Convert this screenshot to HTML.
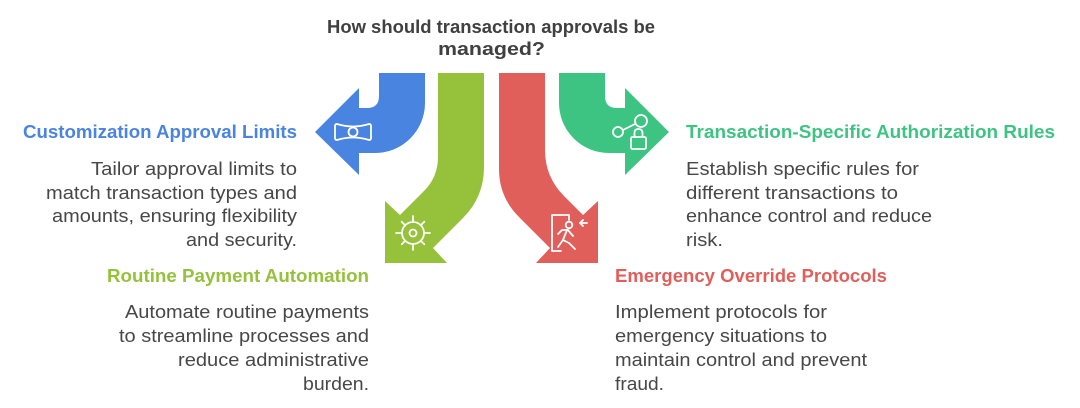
<!DOCTYPE html>
<html>
<head>
<meta charset="utf-8">
<style>
  html, body { margin: 0; padding: 0; background: #ffffff; }
  body { width: 1080px; height: 408px; overflow: hidden; }
  svg { display: block; }
  .t { font-family: "Liberation Sans", Arial, sans-serif; }
  .title { font-weight: bold; font-size: 18px; fill: #404040; }
  .h { font-weight: bold; font-size: 18px; }
  .b { font-size: 18px; fill: #474747; }
</style>
</head>
<body>
<svg width="1080" height="408" viewBox="0 0 1080 408" xmlns="http://www.w3.org/2000/svg">
  <!-- Title -->
  <text class="t title" x="327" y="33" textLength="328" lengthAdjust="spacingAndGlyphs">How should transaction approvals be</text>
  <text class="t title" x="438" y="55" textLength="107" lengthAdjust="spacingAndGlyphs">managed?</text>

  <!-- Blue arrow (left) -->
  <path d="M379 73 L425 73 L425 103 A50 50 0 0 1 375 153 L359 153 L359 175 L315 132 L359 88 L359 108 L367 108 Q379 108 379 96 Z" fill="#4A84E1"/>
  <!-- Teal arrow (right) -->
  <path d="M605 73 L559 73 L559 103 A50 50 0 0 0 609 153 L625 153 L625 175 L669 132 L625 88 L625 108 L617 108 Q605 108 605 96 Z" fill="#3DC482"/>
  <!-- Green arrow (down-left) -->
  <path d="M438 73 L484 73 L484 167 Q484 197 463 218 L433 248 L447 263 L385 263 L385 201 L400 215 L424 191 Q438 177 438 157 Z" fill="#96C13A"/>
  <!-- Red arrow (down-right) -->
  <path d="M499 73 L545 73 L545 150 Q545 177 564 196 L583 215 L598 201 L598 263 L536 263 L550 248 L519 217 Q499 197 499 169 Z" fill="#E15F5A"/>

  <!-- Blue icon: bow -->
  <g fill="none" stroke="#ffffff" stroke-width="1.8" stroke-linejoin="round">
    <path d="M337 124 Q353 129 369 124 Q371 124 371 126 L371 138 Q371 140 369 140 Q353 135 337 140 Q335 140 335 138 L335 126 Q335 124 337 124 Z"/>
    <circle cx="353" cy="132" r="4.5"/>
  </g>

  <!-- Green icon: wheel -->
  <g fill="none" stroke="#ffffff" stroke-width="1.8" stroke-linecap="round">
    <circle cx="413" cy="233" r="11"/>
    <circle cx="413" cy="233" r="3.5"/>
    <line x1="413" y1="222" x2="413" y2="216"/>
    <line x1="413" y1="244" x2="413" y2="250"/>
    <line x1="402" y1="233" x2="396" y2="233"/>
    <line x1="424" y1="233" x2="430" y2="233"/>
    <line x1="405.2" y1="225.2" x2="401.7" y2="221.7"/>
    <line x1="420.8" y1="225.2" x2="424.3" y2="221.7"/>
    <line x1="405.2" y1="240.8" x2="401.7" y2="244.3"/>
    <line x1="420.8" y1="240.8" x2="424.3" y2="244.3"/>
  </g>

  <!-- Teal icon: share + lock -->
  <g fill="none" stroke="#ffffff" stroke-width="1.8" stroke-linecap="round" stroke-linejoin="round">
    <circle cx="618" cy="132" r="5"/>
    <circle cx="641" cy="121" r="6"/>
    <line x1="623" y1="130" x2="635" y2="124"/>
    <rect x="631" y="137" width="15" height="12" rx="1.5"/>
    <path d="M634.5 137 L634.5 133 Q634.5 129 638.5 129 Q642.5 129 642.5 133 L642.5 137"/>
  </g>

  <!-- Red icon: emergency exit -->
  <g fill="none" stroke="#ffffff" stroke-width="1.8" stroke-linecap="round" stroke-linejoin="round">
    <path d="M561 251 L552 251 L552 215 L569 215 L569 220"/>
    <circle cx="569" cy="225" r="3.3"/>
    <path d="M558 234 L562 230 L568 230 L573 236"/>
    <path d="M567 230 L563 240 L569 243 L575 249"/>
    <path d="M563 240 L558 247"/>
    <line x1="580" y1="223" x2="587" y2="223"/>
    <path d="M583 220 L580 223 L583 226"/>
  </g>

  <!-- Blue text -->
  <text class="t h" fill="#4A84E1" x="23" y="138" textLength="274" lengthAdjust="spacingAndGlyphs">Customization Approval Limits</text>
  <text class="t b" x="91" y="175" textLength="206" lengthAdjust="spacingAndGlyphs">Tailor approval limits to</text>
  <text class="t b" x="46" y="199" textLength="251" lengthAdjust="spacingAndGlyphs">match transaction types and</text>
  <text class="t b" x="52" y="222" textLength="245" lengthAdjust="spacingAndGlyphs">amounts, ensuring flexibility</text>
  <text class="t b" x="186" y="246" textLength="111" lengthAdjust="spacingAndGlyphs">and security.</text>

  <!-- Teal text -->
  <text class="t h" fill="#3DC482" x="686" y="138" textLength="369" lengthAdjust="spacingAndGlyphs">Transaction-Specific Authorization Rules</text>
  <text class="t b" x="686" y="175" textLength="233" lengthAdjust="spacingAndGlyphs">Establish specific rules for</text>
  <text class="t b" x="686" y="199" textLength="212" lengthAdjust="spacingAndGlyphs">different transactions to</text>
  <text class="t b" x="686" y="222" textLength="246" lengthAdjust="spacingAndGlyphs">enhance control and reduce</text>
  <text class="t b" x="686" y="246" textLength="37" lengthAdjust="spacingAndGlyphs">risk.</text>

  <!-- Green text -->
  <text class="t h" fill="#96C13A" x="107" y="282" textLength="262" lengthAdjust="spacingAndGlyphs">Routine Payment Automation</text>
  <text class="t b" x="125" y="318" textLength="244" lengthAdjust="spacingAndGlyphs">Automate routine payments</text>
  <text class="t b" x="119" y="342" textLength="250" lengthAdjust="spacingAndGlyphs">to streamline processes and</text>
  <text class="t b" x="178" y="366" textLength="191" lengthAdjust="spacingAndGlyphs">reduce administrative</text>
  <text class="t b" x="303" y="390" textLength="66" lengthAdjust="spacingAndGlyphs">burden.</text>

  <!-- Red text -->
  <text class="t h" fill="#E15F5A" x="615" y="282" textLength="272" lengthAdjust="spacingAndGlyphs">Emergency Override Protocols</text>
  <text class="t b" x="615" y="318" textLength="212" lengthAdjust="spacingAndGlyphs">Implement protocols for</text>
  <text class="t b" x="615" y="342" textLength="212" lengthAdjust="spacingAndGlyphs">emergency situations to</text>
  <text class="t b" x="615" y="366" textLength="252" lengthAdjust="spacingAndGlyphs">maintain control and prevent</text>
  <text class="t b" x="615" y="390" textLength="49" lengthAdjust="spacingAndGlyphs">fraud.</text>
</svg>
</body>
</html>
